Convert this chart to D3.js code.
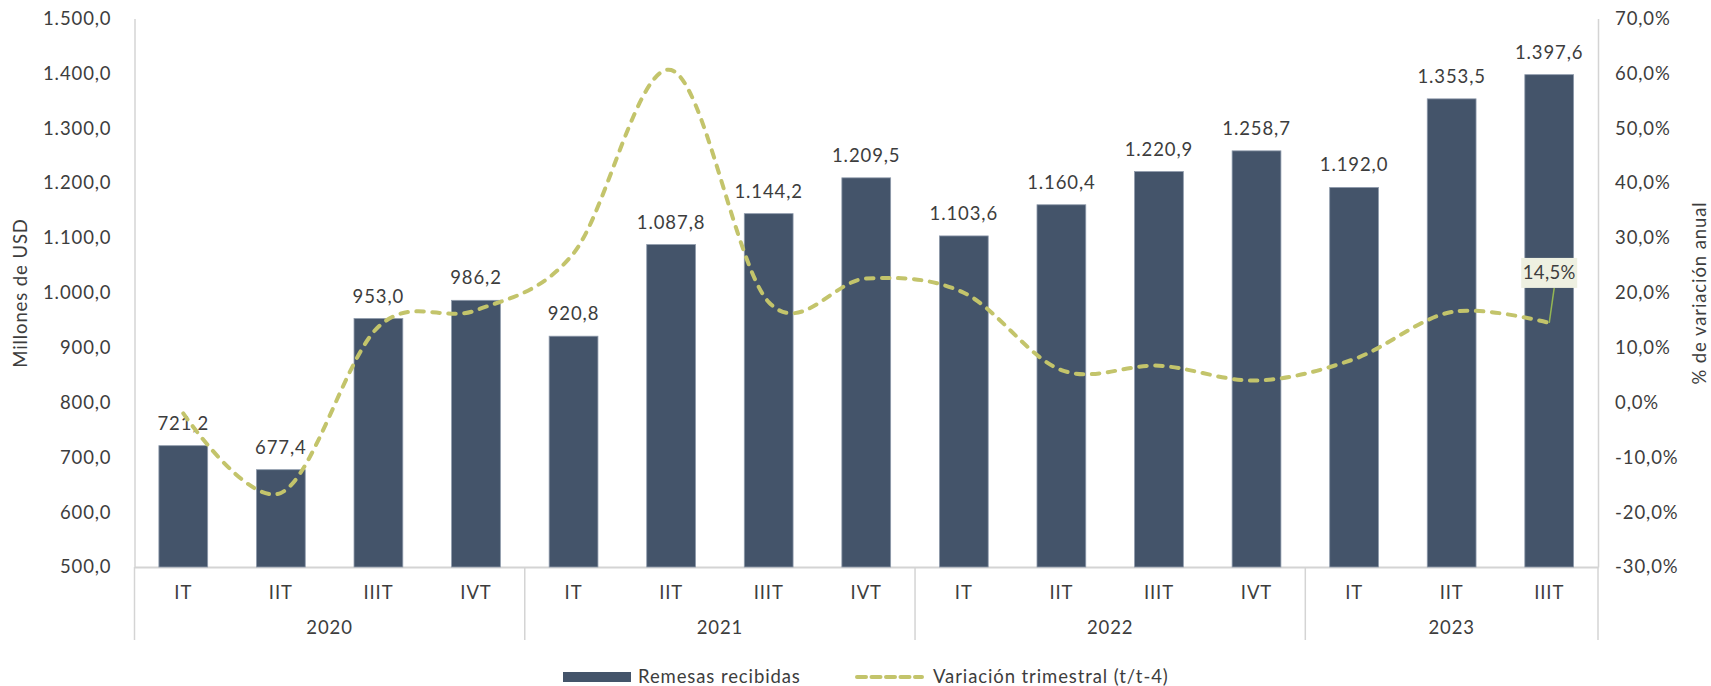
<!DOCTYPE html>
<html>
<head>
<meta charset="utf-8">
<script src="https://cdnjs.cloudflare.com/ajax/libs/d3/7.8.5/d3.min.js"></script>
<style>
    body { margin:0; background:#fff; }
    svg text { font-family: Lato, 'Open Sans', sans-serif; font-weight:400; fill:#3d3d3d; font-size:18.5px; letter-spacing:0.9px; }
</style>
</head>
<body>
<div id="canvas"></div>
<script>
// ---- DATA ----
var quarterLabels = ['IT','IIT','IIIT','IVT','IT','IIT','IIIT','IVT','IT','IIT','IIIT','IVT','IT','IIT','IIIT'];
var yearOf = ['2020','2020','2020','2020','2021','2021','2021','2021','2022','2022','2022','2022','2023','2023','2023'];
var years = ['2020','2021','2022','2023'];
var remesas = [721.2, 677.4, 953.0, 986.2, 920.8, 1087.8, 1144.2, 1209.5, 1103.6, 1160.4, 1220.9, 1258.7, 1192.0, 1353.5, 1397.6];
var variacion = [-2.0, -16.5, 13.8, 16.8, 27.2, 60.6, 18.3, 22.6, 20.0, 5.9, 6.7, 4.0, 7.9, 16.5, 14.5];
var leftTicks = [500, 600, 700, 800, 900, 1000, 1100, 1200, 1300, 1400, 1500];
var rightTicks = [-30, -20, -10, 0, 10, 20, 30, 40, 50, 60, 70];
var seriesNames = ['Remesas recibidas', 'Variación trimestral (t/t-4)'];


// ---- CONVENTIONS ----
var margin = {top:18.5, right:113, bottom:119, left:134.5};
var outerWidth = 1711,
    outerHeight = 686;
var width = outerWidth - margin.left - margin.right,
    height = outerHeight - margin.top - margin.bottom;

var barColor = '#44546a',
    lineColor = '#c3c46b',
    gridColor = '#d4d4d4';

var locale = d3.formatLocale({decimal:',', thousands:'.', grouping:[3], currency:['', ''], minus:'-'});
var fmtNum = locale.format(',.1f');

var svg = d3.select('#canvas')
    .append('svg')
    .attr('width', outerWidth)
    .attr('height', outerHeight);

var plot = svg.append('g')
    .attr('transform', 'translate(' + margin.left + ',' + margin.top + ')');


// ---- SCALES ----
var scaleX = d3.scaleBand()
    .domain(d3.range(remesas.length))
    .range([0, width])
    .paddingInner(0.5)
    .paddingOuter(0.25);

var scaleY = d3.scaleLinear()
    .domain([500, 1500])
    .range([height, 0]);

var scaleY2 = d3.scaleLinear()
    .domain([-30, 70])
    .range([height, 0]);

function cx(i){ return scaleX(i) + scaleX.bandwidth()/2; }


// ---- AXES ----
var axisY = d3.axisLeft(scaleY)
    .tickValues(leftTicks)
    .tickSize(0)
    .tickPadding(23)
    .tickFormat(fmtNum);

var axisY2 = d3.axisRight(scaleY2)
    .tickValues(rightTicks)
    .tickSize(0)
    .tickPadding(17)
    .tickFormat(function(d){ return fmtNum(d) + '%'; });

var axisX = d3.axisBottom(scaleX)
    .tickSize(0)
    .tickPadding(19)
    .tickFormat(function(i){ return quarterLabels[i]; });

plot.append('g').attr('class', 'axis axis-y')
    .call(axisY);

plot.append('g').attr('class', 'axis axis-y2')
    .attr('transform', 'translate(' + width + ',0)')
    .call(axisY2);

plot.append('g').attr('class', 'axis axis-x')
    .attr('transform', 'translate(0,' + height + ')')
    .call(axisX);

// let the css set the font
plot.selectAll('.axis').attr('font-family', null).attr('font-size', null);

plot.selectAll('.axis-y .domain, .axis-y2 .domain')
    .style('stroke', gridColor)
    .style('stroke-width', '1.5px');
plot.select('.axis-x .domain')
    .style('stroke', gridColor)
    .style('stroke-width', '2px');

// year separators under the x axis
var bounds = [0];
years.forEach(function(y){
    var last = yearOf.lastIndexOf(y);
    bounds.push(last === yearOf.length - 1 ? width : scaleX(last) + scaleX.bandwidth() + scaleX.step()*0.25);
});
plot.selectAll('.sep')
    .data(bounds)
    .enter().append('line')
    .attr('class', 'sep')
    .attr('x1', function(d){ return d; })
    .attr('x2', function(d){ return d; })
    .attr('y1', height)
    .attr('y2', height + 73)
    .style('stroke', gridColor)
    .style('stroke-width', '1.5px');

plot.selectAll('.year-label')
    .data(years)
    .enter().append('text')
    .attr('class', 'year-label')
    .attr('x', function(y){
        var idx = d3.range(yearOf.length).filter(function(i){ return yearOf[i] === y; });
        return d3.mean(idx, cx);
    })
    .attr('y', height + 61)
    .attr('dy', '0.35em')
    .attr('text-anchor', 'middle')
    .text(function(y){ return y; });

// axis titles
svg.append('text')
    .attr('transform', 'translate(21,293) rotate(-90)')
    .attr('text-anchor', 'middle')
    .attr('dy', '0.35em')
    .text('Millones de USD');

svg.append('text')
    .attr('transform', 'translate(1700,293) rotate(-90)')
    .attr('text-anchor', 'middle')
    .attr('dy', '0.35em')
    .text('% de variación anual');


// ---- BARS ----
plot.selectAll('.bar')
    .data(remesas)
    .enter().append('rect')
    .attr('class', 'bar')
    .attr('x', function(d, i){ return scaleX(i); })
    .attr('y', function(d){ return scaleY(d); })
    .attr('width', scaleX.bandwidth())
    .attr('height', function(d){ return height - scaleY(d); })
    .style('fill', barColor)
    .style('stroke', '#8e9aab')
    .style('stroke-width', '0.8px');

plot.selectAll('.bar-label')
    .data(remesas)
    .enter().append('text')
    .attr('class', 'bar-label')
    .attr('x', function(d, i){ return cx(i); })
    .attr('y', function(d){ return scaleY(d) - 16; })
    .attr('text-anchor', 'middle')
    .text(function(d){ return fmtNum(d); });


// ---- LINE ----
var lineGenerator = d3.line()
    .x(function(d, i){ return cx(i); })
    .y(function(d){ return scaleY2(d); })
    .curve(d3.curveCardinal.tension(0));

plot.append('path')
    .datum(variacion)
    .attr('class', 'variation-line')
    .attr('d', lineGenerator)
    .style('fill', 'none')
    .style('stroke', lineColor)
    .style('stroke-width', '4px')
    .style('stroke-linecap', 'round')
    .style('stroke-dasharray', '7.5 8.5');

// callout on last value
var lastI = variacion.length - 1,
    px = cx(lastI),
    py = scaleY2(variacion[lastI]);

var callout = plot.append('g').attr('class', 'callout');
callout.append('line')
    .attr('x1', px + 5).attr('y1', py - 35)
    .attr('x2', px).attr('y2', py)
    .style('stroke', '#94b653')
    .style('stroke-width', '1.5px');
callout.append('rect')
    .attr('x', px - 28).attr('y', py - 65)
    .attr('width', 56).attr('height', 30)
    .style('fill', '#eef0e1');
callout.append('text')
    .attr('x', px).attr('y', py - 50)
    .attr('dy', '0.35em')
    .attr('text-anchor', 'middle')
    .style('letter-spacing', '0.3px')
    .text(locale.format('.1f')(variacion[lastI]) + '%');


// ---- LEGEND ----
var legend = svg.append('g').attr('class', 'legend');
legend.append('rect')
    .attr('x', 563).attr('y', 672)
    .attr('width', 68).attr('height', 10)
    .style('fill', barColor);
legend.append('text')
    .attr('x', 638).attr('y', 677)
    .attr('dy', '0.32em')
    .text(seriesNames[0]);
legend.append('line')
    .attr('x1', 857).attr('x2', 922)
    .attr('y1', 677).attr('y2', 677)
    .style('stroke', lineColor)
    .style('stroke-width', '4px')
    .style('stroke-linecap', 'round')
    .style('stroke-dasharray', '9 5.5');
legend.append('text')
    .attr('x', 933).attr('y', 677)
    .attr('dy', '0.32em')
    .text(seriesNames[1]);
</script>
</body>
</html>
